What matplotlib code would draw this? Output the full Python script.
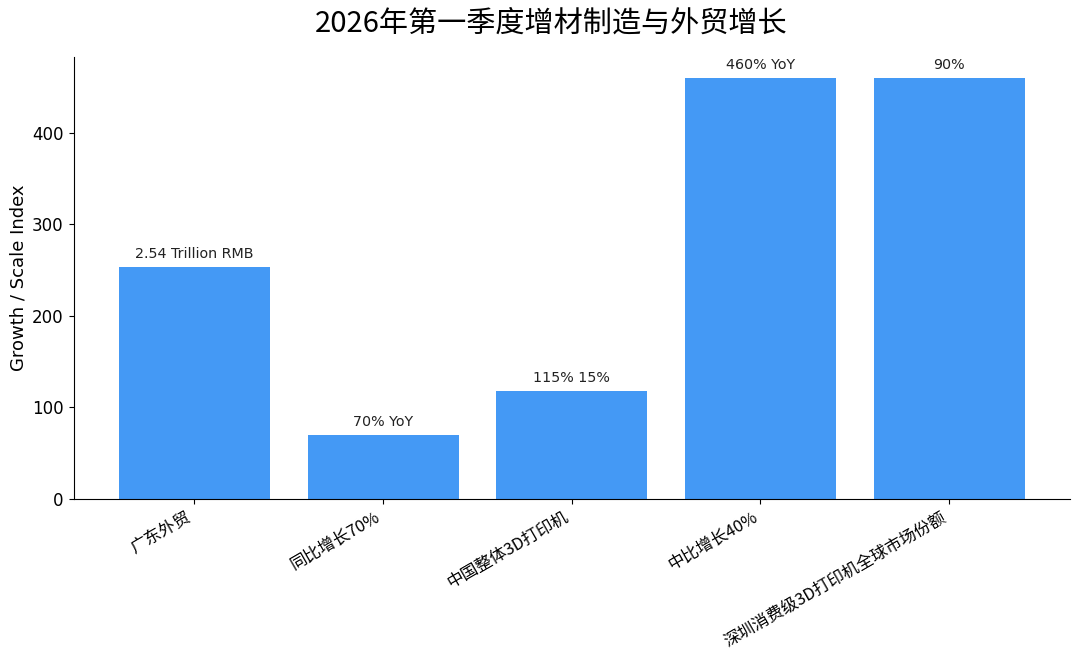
import matplotlib
matplotlib.use("Agg")
import matplotlib.pyplot as plt

plt.rcParams['font.family'] = ['Noto Sans CJK SC', 'DejaVu Sans']

categories = ['广东外贸', '同比增长70%', '中国整体3D打印机', '中比增长40%', '深圳消费级3D打印机全球市场份额']
values = [254, 70, 118, 460, 460]
bar_labels = ['2.54 Trillion RMB', '70% YoY', '115% 15%', '460% YoY', '90%']
title = '2026年第一季度增材制造与外贸增长'
ylabel = 'Growth / Scale Index'

fig = plt.figure(figsize=(10.8, 6.5), dpi=100)
ax = fig.add_axes([73.5 / 1080, 1 - 499 / 650, (1070 - 73.5) / 1080, (499 - 57) / 650])

x = list(range(len(categories)))
bars = ax.bar(x, values, width=0.8, color='#4499F5')
for b, lab in zip(bars, bar_labels):
    ax.annotate(lab, (b.get_x() + b.get_width() / 2, b.get_height()),
                xytext=(0, 4), textcoords='offset points', ha='center', va='bottom',
                fontsize=10.3, family=['DejaVu Sans'], color='#222222')

ax.set_xticks(x)
ax.set_xticklabels(categories, rotation=30, ha='right', fontsize=12)
ax.set_yticks([0, 100, 200, 300, 400])
for t in ax.get_yticklabels():
    t.set_family(['DejaVu Sans'])
    t.set_fontsize(12)
ax.set_ylabel(ylabel, fontsize=13, family=['DejaVu Sans'], labelpad=3)
ax.spines['top'].set_visible(False)
ax.spines['right'].set_visible(False)

fig.text(551 / 1080, 1 - 24 / 650, title, ha='center', va='center', fontsize=21)

fig.savefig('out.png', dpi=100, facecolor='white')
